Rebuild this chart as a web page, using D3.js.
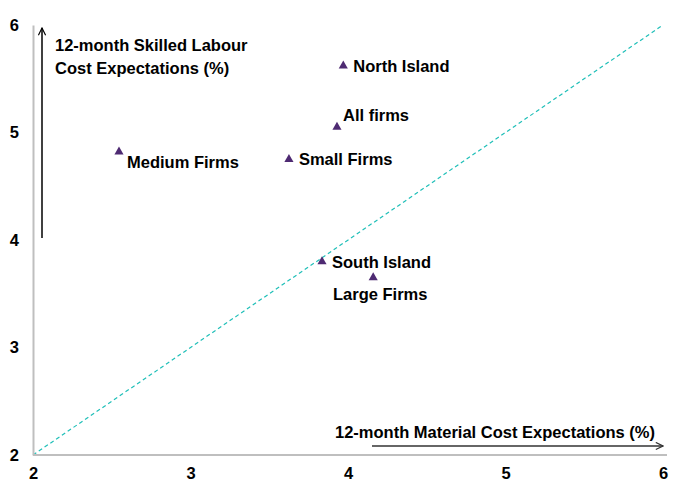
<!DOCTYPE html>
<html>
<head>
<meta charset="utf-8">
<script src="https://cdn.jsdelivr.net/npm/d3@7"></script>
<style>
  html, body { margin: 0; padding: 0; background: #fff; }
  text { font-family: "Liberation Sans", Arial, sans-serif; font-weight: bold; fill: #000; }
</style>
</head>
<body>
<svg id="chart" width="673" height="494"></svg>
<script>
// Survey groups: material cost expectations (x) vs skilled labour cost expectations (y)
const groups = ["North Island", "All firms", "Small Firms", "Medium Firms", "South Island", "Large Firms"];
const materialCost = [3.97, 3.93, 3.625, 2.546, 3.835, 4.16];
const labourCost   = [5.62, 5.05, 4.75, 4.82, 3.80, 3.65];
// label placement relative to each marker
const labelPos = ["right", "aboveRight", "right", "belowRight", "right", "below"];
const tickValues = [2, 3, 4, 5, 6];

const FONT = "16.5px";
const svg = d3.select("#chart");
const x = d3.scaleLinear().domain([2, 6]).range([33, 663]);
const y = d3.scaleLinear().domain([2, 6]).range([455, 25]);

// 45-degree reference line
svg.append("line")
  .attr("x1", x(2)).attr("y1", y(2)).attr("x2", x(6)).attr("y2", y(6))
  .attr("stroke", "#1FBFB8").attr("stroke-width", 1.2)
  .attr("stroke-dasharray", "4,3");

// axes
const xAxis = svg.append("g").attr("transform", `translate(0,${y(2)})`)
  .call(d3.axisBottom(x).tickValues(tickValues).tickSize(0).tickPadding(12).tickFormat(d3.format("d")));
const yAxis = svg.append("g").attr("transform", `translate(${x(2)},0)`)
  .call(d3.axisLeft(y).tickValues(tickValues).tickSize(0).tickPadding(14).tickFormat(d3.format("d")));
[xAxis, yAxis].forEach(g => {
  g.select(".domain").attr("stroke", "#BFBFBF").attr("stroke-width", 2);
  g.selectAll("text").style("font-size", FONT).style("font-family", "Liberation Sans, Arial, sans-serif")
    .style("font-weight", "bold").attr("fill", "#000");
});
xAxis.select(".domain").attr("d", `M${x(2)},0H${x(6) + 4}`);

// arrow heads
const defs = svg.append("defs");
function marker(id, color) {
  defs.append("marker").attr("id", id)
    .attr("viewBox", "0 0 10 10").attr("refX", 9).attr("refY", 5)
    .attr("markerWidth", 6).attr("markerHeight", 6).attr("orient", "auto")
    .append("path").attr("d", "M1,1L9,5L1,9").attr("fill", "none")
    .attr("stroke", color).attr("stroke-width", 1.3);
}
marker("arrY", "#000");
marker("arrX", "#333");

// y-axis title arrow
svg.append("line").attr("x1", 42).attr("y1", 238).attr("x2", 42).attr("y2", 28)
  .attr("stroke", "#000").attr("stroke-width", 1.5).attr("marker-end", "url(#arrY)");
const yTitle = svg.append("text").attr("x", 55).attr("y", 51).style("font-size", FONT);
yTitle.append("tspan").attr("x", 55).text("12-month Skilled Labour");
yTitle.append("tspan").attr("x", 55).attr("dy", 23).text("Cost Expectations (%)");

// x-axis title arrow
svg.append("line").attr("x1", 372).attr("y1", 446).attr("x2", 663).attr("y2", 446)
  .attr("stroke", "#333").attr("stroke-width", 1.5).attr("marker-end", "url(#arrX)");
svg.append("text").attr("x", 655).attr("y", 438).attr("text-anchor", "end")
  .style("font-size", FONT).text("12-month Material Cost Expectations (%)");

// points
const tri = d3.symbol().type(d3.symbolTriangle).size(36);
const data = groups.map((g, i) => ({ name: g, mx: materialCost[i], ly: labourCost[i], pos: labelPos[i] }));
svg.selectAll("path.pt").data(data).enter().append("path")
  .attr("class", "pt")
  .attr("d", tri)
  .attr("transform", d => `translate(${x(d.mx)},${y(d.ly)})`)
  .attr("fill", "#4E2A72");

// point labels
const offsets = {
  right:      { dx: 10, dy: 6, anchor: "start" },
  aboveRight: { dx: 6, dy: -6, anchor: "start" },
  belowRight: { dx: 8, dy: 16, anchor: "start" },
  below:      { dx: 7, dy: 22, anchor: "middle" }
};
svg.selectAll("text.lbl").data(data).enter().append("text")
  .attr("class", "lbl")
  .attr("x", d => x(d.mx) + offsets[d.pos].dx)
  .attr("y", d => y(d.ly) + offsets[d.pos].dy)
  .attr("text-anchor", d => offsets[d.pos].anchor)
  .style("font-size", FONT)
  .text(d => d.name);
</script>
</body>
</html>
